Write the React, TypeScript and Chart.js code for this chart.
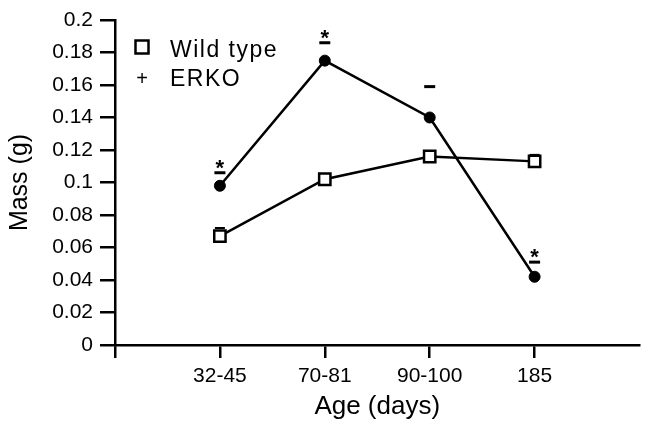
import React, { useEffect, useRef } from 'react';
import { Chart, registerables } from 'chart.js';

Chart.register(...registerables);

const ageGroups = ['32-45', '70-81', '90-100', '185'];
const xPositions = [1, 2, 3, 4];
const wildType = [0.067, 0.102, 0.116, 0.113];
const wildTypeUpper: (number | null)[] = [0.072, null, null, 0.117];
const erko = [0.098, 0.175, 0.14, 0.042];
const erkoUpper = [0.106, 0.186, 0.159, 0.051];
const erkoSignificant = [true, true, false, true];
const yTickLabels = ['0', '0.02', '0.04', '0.06', '0.08', '0.1', '0.12', '0.14', '0.16', '0.18', '0.2'];
const seriesNames = ['Wild type', 'ERKO'];
const xTickValues = [0, 1, 2, 3, 4];

const FONT = '"Liberation Sans", Arial, Helvetica, sans-serif';

const annotationsPlugin = {
  id: 'annotations',
  afterDatasetsDraw(chart: any) {
    const ctx = chart.ctx;
    const xs = chart.scales.x;
    const ys = chart.scales.y;
    ctx.save();
    ctx.strokeStyle = '#000';
    ctx.fillStyle = '#000';
    // ERKO caps and asterisks
    erkoUpper.forEach((v, i) => {
      const x = xs.getPixelForValue(xPositions[i]);
      const y = ys.getPixelForValue(v);
      ctx.lineWidth = 3;
      ctx.beginPath();
      ctx.moveTo(x - 5.5, y);
      ctx.lineTo(x + 5.5, y);
      ctx.stroke();
      if (erkoSignificant[i]) {
        ctx.font = `bold 22px ${FONT}`;
        ctx.textAlign = 'center';
        ctx.textBaseline = 'alphabetic';
        ctx.fillText('*', x, y + 2);
      }
    });
    wildTypeUpper.forEach((v, i) => {
      if (v == null) return;
      const x = xs.getPixelForValue(xPositions[i]);
      const y = ys.getPixelForValue(v);
      ctx.lineWidth = 2;
      ctx.beginPath();
      ctx.moveTo(x - 5, y);
      ctx.lineTo(x + 5, y);
      ctx.stroke();
    });
    // Legend
    ctx.lineWidth = 2.5;
    ctx.strokeRect(135.5, 40.5, 13, 13);
    ctx.font = `23px ${FONT}`;
    ctx.textAlign = 'left';
    ctx.textBaseline = 'alphabetic';
    (ctx as any).letterSpacing = '1.5px';
    ctx.fillText(seriesNames[0], 170, 57);
    ctx.fillText(seriesNames[1], 170, 86);
    (ctx as any).letterSpacing = '0px';
    ctx.font = `20px ${FONT}`;
    ctx.textAlign = 'center';
    ctx.fillText('+', 142, 85);
    ctx.restore();
  },
};

export default function App() {
  const canvasRef = useRef<HTMLCanvasElement | null>(null);

  useEffect(() => {
    document.body.style.margin = '0';
    const canvas = canvasRef.current;
    if (!canvas) return;
    const chart = new Chart(canvas, {
      type: 'line',
      data: {
        datasets: [
          {
            label: seriesNames[0],
            data: xPositions.map((x, i) => ({ x, y: wildType[i] })),
            borderColor: '#000',
            borderWidth: 2.5,
            backgroundColor: '#fff',
            pointStyle: 'rect',
            pointRadius: 8,
            pointBorderWidth: 2.5,
            pointBackgroundColor: '#fff',
            pointBorderColor: '#000',
            tension: 0,
          },
          {
            label: seriesNames[1],
            data: xPositions.map((x, i) => ({ x, y: erko[i] })),
            borderColor: '#000',
            borderWidth: 2.5,
            backgroundColor: '#000',
            pointStyle: 'circle',
            pointRadius: 5.5,
            pointBorderWidth: 1,
            pointBackgroundColor: '#000',
            pointBorderColor: '#000',
            tension: 0,
          },
        ],
      },
      options: {
        animation: false,
        responsive: false,
        devicePixelRatio: 1,
        layout: { padding: { top: 20, left: 0, right: 0, bottom: 4 } },
        plugins: {
          legend: { display: false },
          tooltip: { enabled: false },
        },
        scales: {
          x: {
            type: 'linear',
            min: 0,
            max: 5,
            afterBuildTicks: (scale: any) => {
              scale.ticks = xTickValues.map((v) => ({ value: v }));
            },
            afterFit: (scale: any) => {
              scale.height = 77;
            },
            border: { color: '#000', width: 2.5 },
            grid: {
              drawOnChartArea: false,
              drawTicks: true,
              tickLength: 13,
              color: '#000',
              lineWidth: 2.5,
            },
            ticks: {
              color: '#000',
              font: { family: FONT, size: 21 },
              padding: 6,
              maxRotation: 0,
              autoSkip: false,
              callback: (v: any) => ageGroups[Number(v) - 1] ?? '',
            },
            title: {
              display: true,
              text: 'Age (days)',
              color: '#000',
              font: { family: FONT, size: 26 },
              padding: { top: 0, bottom: 0 },
            },
          },
          y: {
            min: 0,
            max: 0.2,
            afterFit: (scale: any) => {
              scale.width = 115;
            },
            border: { color: '#000', width: 2.5 },
            grid: {
              drawOnChartArea: false,
              drawTicks: true,
              tickLength: 15,
              color: '#000',
              lineWidth: 2.5,
            },
            ticks: {
              stepSize: 0.02,
              color: '#000',
              font: { family: FONT, size: 21 },
              padding: 7,
              autoSkip: false,
              callback: (_v: any, i: number) => yTickLabels[i],
            },
            title: {
              display: true,
              text: 'Mass (g)',
              color: '#000',
              font: { family: FONT, size: 25 },
              padding: { top: 5, bottom: 0 },
            },
          },
        },
      },
      plugins: [annotationsPlugin],
    } as any);
    return () => chart.destroy();
  }, []);

  return (
    <div style={{ position: 'absolute', left: 0, top: 0, width: 650, height: 426, background: '#fff' }}>
      <canvas ref={canvasRef} width={650} height={426} />
    </div>
  );
}
